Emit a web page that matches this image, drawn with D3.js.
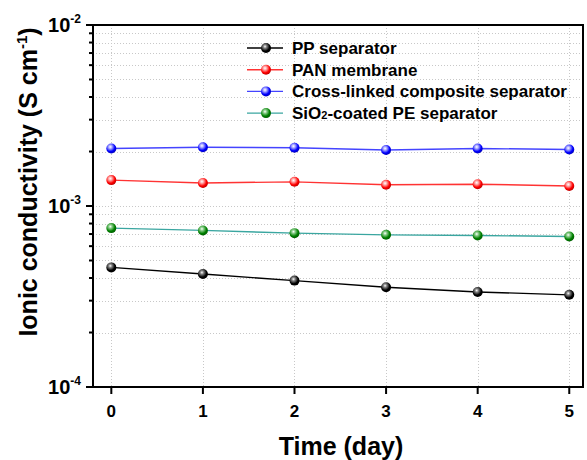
<!DOCTYPE html>
<html>
<head>
<meta charset="utf-8">
<script src="https://cdn.jsdelivr.net/npm/d3@7"></script>
<style>
  body { margin: 0; background: #fff; }
  text { font-family: Arial, "Liberation Sans", sans-serif; font-weight: bold; }
</style>
</head>
<body>
<script>
// Data
var days = [0, 1, 2, 3, 4, 5];
var ppSeparator = [4.58e-4, 4.21e-4, 3.87e-4, 3.56e-4, 3.35e-4, 3.23e-4];
var panMembrane = [1.39e-3, 1.34e-3, 1.36e-3, 1.31e-3, 1.32e-3, 1.29e-3];
var crossLinked = [2.08e-3, 2.11e-3, 2.10e-3, 2.04e-3, 2.08e-3, 2.05e-3];
var sio2Coated = [7.55e-4, 7.33e-4, 7.08e-4, 6.93e-4, 6.87e-4, 6.79e-4];
var seriesNames = ["PP separator", "PAN membrane", "Cross-linked composite separator", "SiO2-coated PE separator"];
var yTickExp = [-2, -3, -4];

(function() {
  var width = 587, height = 460;
  var margin = {left: 93, right: 4, top: 25, bottom: 73};

  var svg = d3.select("body").append("svg")
      .attr("width", width)
      .attr("height", height);

  var x = d3.scaleLinear()
      .domain([-0.2, 5.15])
      .range([margin.left, width - margin.right]);
  var y = d3.scaleLog()
      .domain([1e-4, 1e-2])
      .range([height - margin.bottom, margin.top]);

  var series = [
    {name: seriesNames[0], values: ppSeparator, line: "#000", dot: "#000", hi: "#888"},
    {name: seriesNames[1], values: panMembrane, line: "#ff3333", dot: "#ff0000", hi: "#ffb0b0"},
    {name: seriesNames[2], values: crossLinked, line: "#4444ff", dot: "#0000ff", hi: "#b0b0ff"},
    {name: seriesNames[3], values: sio2Coated, line: "#3aa6a0", dot: "#008000", hi: "#90d090"}
  ];

  // Sphere gradients
  var defs = svg.append("defs");
  series.forEach(function(s, i) {
    var g = defs.append("radialGradient")
        .attr("id", "ball" + i)
        .attr("cx", "40%").attr("cy", "35%").attr("r", "65%");
    g.append("stop").attr("offset", "0%").attr("stop-color", "#fff");
    g.append("stop").attr("offset", "25%").attr("stop-color", s.hi);
    g.append("stop").attr("offset", "70%").attr("stop-color", s.dot);
    g.append("stop").attr("offset", "100%").attr("stop-color", d3.color(s.dot).darker(0.8));
  });

  // Minor log ticks
  var minorVals = [];
  [-4, -3].forEach(function(e) {
    for (var k = 1; k <= 9; k++) minorVals.push(k * Math.pow(10, e));
  });
  minorVals.push(1e-2);

  // Grid
  var grid = svg.append("g")
      .attr("stroke", "#c8c8c8")
      .attr("stroke-width", 1)
      .attr("stroke-dasharray", "1,2");
  grid.selectAll(".gy")
      .data(minorVals.filter(function(v) { return v > 1e-4 && v < 1e-2; }))
      .enter().append("line")
      .attr("x1", margin.left).attr("x2", width - margin.right)
      .attr("y1", function(d) { return Math.round(y(d)) + 0.5; })
      .attr("y2", function(d) { return Math.round(y(d)) + 0.5; });
  grid.selectAll(".gx")
      .data(days)
      .enter().append("line")
      .attr("x1", function(d) { return Math.round(x(d)) + 0.5; })
      .attr("x2", function(d) { return Math.round(x(d)) + 0.5; })
      .attr("y1", margin.top).attr("y2", height - margin.bottom);

  // Lines
  var line = d3.line()
      .x(function(d, i) { return x(days[i]); })
      .y(function(d) { return y(d); });
  series.forEach(function(s, i) {
    svg.append("path")
        .datum(s.values)
        .attr("fill", "none")
        .attr("stroke", s.line)
        .attr("stroke-width", 1.4)
        .attr("d", line);
    svg.selectAll(".dot" + i)
        .data(s.values)
        .enter().append("circle")
        .attr("cx", function(d, j) { return x(days[j]); })
        .attr("cy", function(d) { return y(d); })
        .attr("r", 5)
        .attr("fill", "url(#ball" + i + ")");
  });

  // Frame
  svg.append("rect")
      .attr("x", margin.left).attr("y", margin.top)
      .attr("width", width - margin.right - margin.left)
      .attr("height", height - margin.bottom - margin.top)
      .attr("fill", "none")
      .attr("stroke", "#000")
      .attr("stroke-width", 2);

  // Y axis ticks
  var yAxis = svg.append("g").attr("stroke", "#000").attr("stroke-width", 2);
  yAxis.selectAll(".yt")
      .data(minorVals)
      .enter().append("line")
      .attr("x1", function(d) {
        var major = Math.abs(Math.log10(d) - Math.round(Math.log10(d))) < 1e-6;
        return margin.left - (major ? 7 : 4);
      })
      .attr("x2", margin.left)
      .attr("y1", function(d) { return y(d); })
      .attr("y2", function(d) { return y(d); });

  var yLab = svg.selectAll(".yl")
      .data(yTickExp)
      .enter().append("text")
      .attr("x", 81)
      .attr("y", function(e) { return y(Math.pow(10, e)) + 7; })
      .attr("text-anchor", "end")
      .attr("font-size", 20);
  yLab.append("tspan").text("10");
  yLab.append("tspan")
      .attr("dy", -9)
      .attr("font-size", 12)
      .text(function(e) { return e; });

  // X axis ticks
  svg.selectAll(".xt")
      .data(days)
      .enter().append("line")
      .attr("x1", function(d) { return x(d); })
      .attr("x2", function(d) { return x(d); })
      .attr("y1", height - margin.bottom)
      .attr("y2", height - margin.bottom + 7)
      .attr("stroke", "#000")
      .attr("stroke-width", 2);
  svg.selectAll(".xl")
      .data(days)
      .enter().append("text")
      .attr("x", function(d) { return x(d); })
      .attr("y", 417)
      .attr("text-anchor", "middle")
      .attr("font-size", 17)
      .text(function(d) { return d; });

  // Axis titles
  svg.append("text")
      .attr("x", 341)
      .attr("y", 455)
      .attr("text-anchor", "middle")
      .attr("font-size", 25)
      .text("Time (day)");
  var yt = svg.append("text")
      .attr("transform", "translate(37,182) rotate(-90)")
      .attr("text-anchor", "middle")
      .attr("font-size", 25);
  yt.append("tspan").text("Ionic conductivity (S cm");
  yt.append("tspan").attr("dy", -10).attr("font-size", 15).text("-1");
  yt.append("tspan").attr("dy", 10).text(")");

  // Legend
  var legend = svg.append("g");
  series.forEach(function(s, i) {
    var ly = 48 + i * 21.7;
    legend.append("line")
        .attr("x1", 247).attr("x2", 283)
        .attr("y1", ly).attr("y2", ly)
        .attr("stroke", s.line).attr("stroke-width", 1.4);
    legend.append("circle")
        .attr("cx", 266).attr("cy", ly).attr("r", 5)
        .attr("fill", "url(#ball" + i + ")");
    var t = legend.append("text")
        .attr("x", 292).attr("y", ly + 6)
        .attr("font-size", 17);
    if (i === 3) {
      t.append("tspan").text("SiO");
      t.append("tspan").attr("font-size", 11).text("2");
      t.append("tspan").text("-coated PE separator");
    } else {
      t.text(s.name);
    }
  });
})();
</script>
</body>
</html>
